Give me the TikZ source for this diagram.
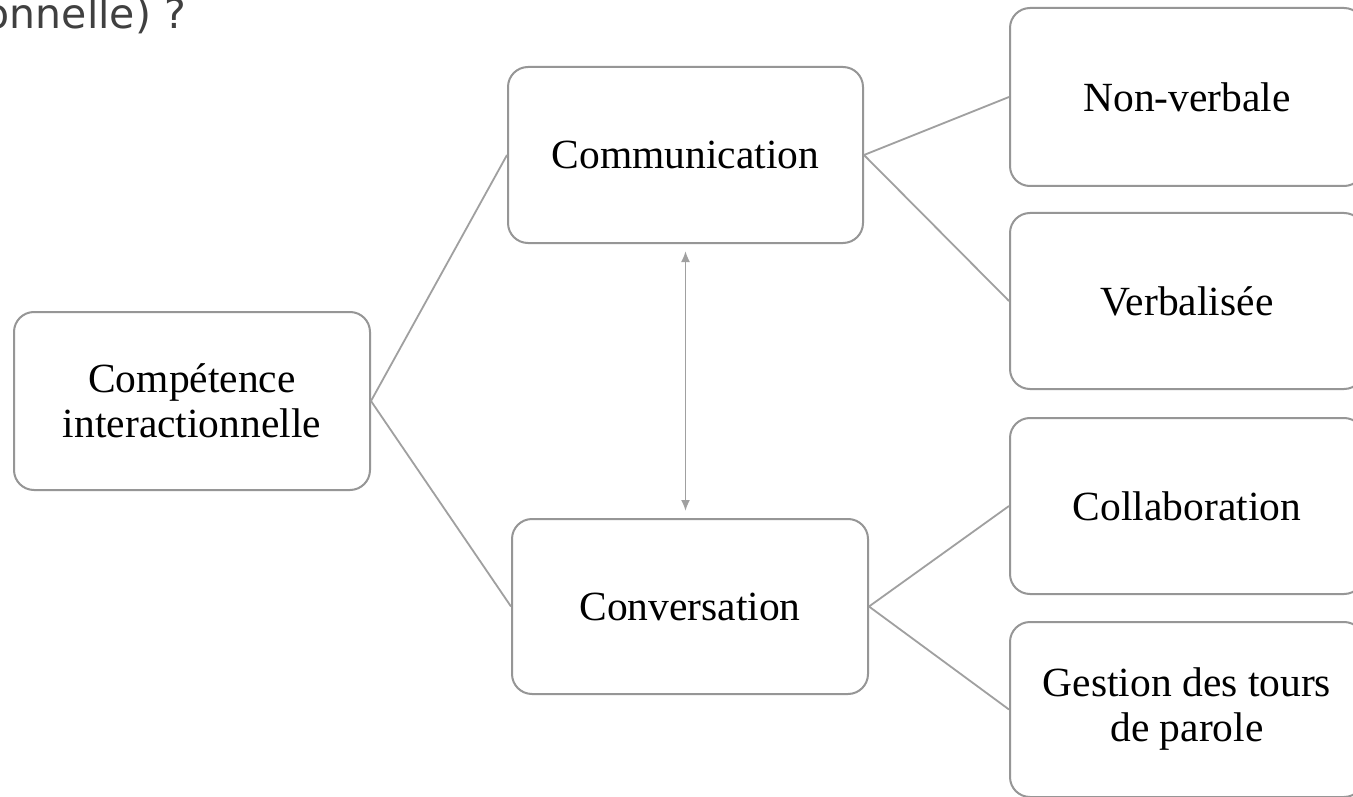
\documentclass[tikz,border=0pt]{standalone}
\usepackage{fontspec}
\setmainfont{Liberation Serif}
\newfontfamily\titlefont{DejaVu Sans}
\usetikzlibrary{arrows.meta}
\definecolor{boxgray}{RGB}{150,150,150}
\definecolor{linegray}{RGB}{160,160,160}
\definecolor{titlegray}{RGB}{64,64,64}
\tikzset{
  box/.style={draw=boxgray, line width=2pt, rounded corners=20pt, fill=white,
    align=center, inner sep=0pt, font=\fontsize{41.5}{45}\selectfont, text=black},
  conn/.style={draw=linegray, line width=1.8pt},
}
\begin{document}
\begin{tikzpicture}[x=1pt,y=-1pt]
\useasboundingbox (0,0) rectangle (1353,797);
\fill[white] (0,0) rectangle (1353,797);
\node[anchor=base east, text=titlegray, font=\titlefont\fontsize{41}{44}\selectfont, inner sep=0pt] (title) at (186,29) {onnelle) ?};
\node[box, minimum width=356pt, minimum height=178pt] (comp) at (192,401) {Compétence\\interactionnelle};
\node[box, minimum width=355pt, minimum height=176pt] (comm) at (685.5,155) {Communication};
\node[box, minimum width=356pt, minimum height=175pt] (conv) at (690,606.5) {Conversation};
\node[box, minimum width=354pt, minimum height=178pt] (nonv) at (1187,97) {Non-verbale};
\node[box, minimum width=354pt, minimum height=176pt] (verb) at (1187,301) {Verbalisée};
\node[box, minimum width=354pt, minimum height=176pt] (coll) at (1187,506) {Collaboration};
\node[box, minimum width=354pt, minimum height=175pt] (gest) at (1187,709.5) {Gestion des tours\\de parole};
\draw[conn] (comp.east) -- (comm.west);
\draw[conn] (comp.east) -- (conv.west);
\draw[conn] (comm.east) -- (nonv.west);
\draw[conn] (comm.east) -- (verb.west);
\draw[conn] (conv.east) -- (coll.west);
\draw[conn] (conv.east) -- (gest.west);
\draw[conn, {Latex[length=11pt,width=9pt]}-{Latex[length=11pt,width=9pt]}, shorten <=7pt, shorten >=7pt] (comm.south) -- (comm.south |- conv.north);
\end{tikzpicture}
\end{document}
